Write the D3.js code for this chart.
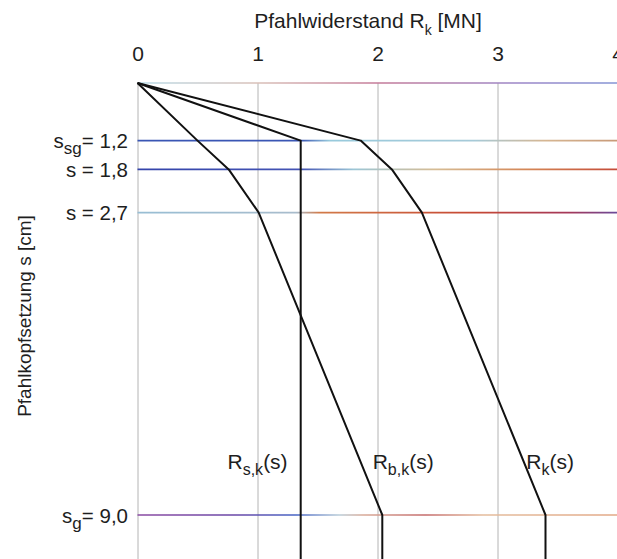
<!DOCTYPE html>
<html><head><meta charset="utf-8">
<script src="https://cdn.jsdelivr.net/npm/d3@7"></script>
<style>html,body{margin:0;padding:0;background:#fff;overflow:hidden}</style>
</head><body>
<svg id="c" width="617" height="559"></svg>
<script>
// ---- data ----
const xTicks = [0, 1, 2, 3, 4];
const levels = [0, 1.2, 1.8, 2.7, 9.0];           // settlement levels s [cm]
const levelLabels = [null, ["s", "sg", "= 1,2"], ["s = 1,8"], ["s = 2,7"], ["s", "g", "= 9,0"]];
const sValues = [0, 1.2, 1.8, 2.7, 9.0, 10.2];      // s [cm]
const Rsk = [0, 1.36, 1.36, 1.36, 1.36, 1.36];      // shaft resistance [MN]
const Rbk = [0, 0.50, 0.76, 1.01, 2.04, 2.04];      // base resistance [MN]
const Rk  = [0, 1.86, 2.12, 2.37, 3.40, 3.40];      // total resistance [MN]
const seriesNames = [["R", "s,k", "(s)"], ["R", "b,k", "(s)"], ["R", "k", "(s)"]];
const labelAt = [[0.75, 8.05], [1.96, 8.05], [3.24, 8.05]]; // [MN, cm] label anchor

const svg = d3.select("#c");
const x = d3.scaleLinear().domain([0, 4]).range([137.5, 617.5]);
const y = d3.scaleLinear().domain([0, 10]).range([83, 563]);
const font = "'Liberation Sans', Arial, sans-serif";
const txt = "#1e1e1e";

// gradients for the scanned coloured level lines
const grads = [
  [[0,"#b9dbe8"],[0.25,"#d9c0b8"],[0.5,"#c47a98"],[0.8,"#9a86c8"],[1,"#8494d4"]],
  [[0,"#3a56b4"],[0.34,"#3a56b4"],[0.4,"#98cadc"],[0.7,"#a6cad8"],[0.85,"#d6b692"],[1,"#c89a78"]],
  [[0,"#3444aa"],[0.34,"#4454b4"],[0.45,"#9cc6d6"],[0.62,"#d6bc94"],[0.82,"#d48454"],[1,"#c44a38"]],
  [[0,"#98bed4"],[0.33,"#a8bccc"],[0.38,"#d27a48"],[0.7,"#c64834"],[0.9,"#a4385a"],[1,"#6a4a9a"]],
  [[0,"#8a4aa2"],[0.2,"#6a46a6"],[0.33,"#4664c4"],[0.42,"#b8ccd8"],[0.47,"#d8aa98"],[0.6,"#c46a6a"],[0.72,"#e4bc9c"],[1,"#e2a886"]]
];
const defs = svg.append("defs");
grads.forEach((g, i) => {
  const lg = defs.append("linearGradient").attr("id", "g" + i)
    .attr("gradientUnits", "userSpaceOnUse")
    .attr("x1", x(0)).attr("x2", x(4)).attr("y1", 0).attr("y2", 0);
  g.forEach(s => lg.append("stop").attr("offset", s[0]).attr("stop-color", s[1]));
});

// vertical grid lines
const gridAxis = d3.axisTop(x).tickValues([0, 1, 2, 3]).tickSize(-(y(10.2) - y(0))).tickFormat("");
const gg = svg.append("g").attr("transform", `translate(0,${y(0)})`).call(gridAxis);
gg.select(".domain").remove();
gg.selectAll("line").attr("stroke", "#b4b4b4").attr("stroke-width", 1);

// top tick labels
const tAxis = d3.axisTop(x).tickValues(xTicks).tickSize(0).tickPadding(0).tickFormat(d3.format("d"));
const tg = svg.append("g").attr("transform", "translate(0,61)").call(tAxis);
tg.select(".domain").remove();
tg.selectAll("text").attr("font-family", font).attr("font-size", 21).attr("fill", txt);

// level lines
svg.append("g").selectAll("line").data(levels).join("line")
  .attr("x1", x(0)).attr("x2", x(4))
  .attr("y1", d => y(d)).attr("y2", d => y(d))
  .attr("stroke", (d, i) => `url(#g${i})`).attr("stroke-width", 1.6);

// level labels
levels.forEach((lv, i) => {
  const lab = levelLabels[i];
  if (!lab) return;
  const t = svg.append("text").attr("x", 128).attr("y", y(lv) + 7.5)
    .attr("text-anchor", "end").attr("font-family", font).attr("font-size", 20.5).attr("fill", txt);
  if (lab.length === 1) { t.text(lab[0]); return; }
  t.append("tspan").text(lab[0]);
  t.append("tspan").attr("dy", 6).attr("font-size", 17).text(lab[1]);
  t.append("tspan").attr("dy", -6).text(lab[2]);
});

// curves
const line = d3.line().x(d => x(d[0])).y(d => y(d[1]));
[Rsk, Rbk, Rk].forEach(ser => {
  svg.append("path").datum(ser.map((v, i) => [v, sValues[i]]))
    .attr("d", line).attr("fill", "none").attr("stroke", "#111")
    .attr("stroke-width", 2).attr("stroke-linejoin", "round");
});

// curve labels
seriesNames.forEach((n, i) => {
  const t = svg.append("text").attr("x", x(labelAt[i][0])).attr("y", y(labelAt[i][1]))
    .attr("font-family", font).attr("font-size", 21).attr("fill", txt);
  t.append("tspan").text(n[0]);
  t.append("tspan").attr("dy", 6).attr("font-size", 16).text(n[1]);
  t.append("tspan").attr("dy", -6).text(n[2]);
});

// axis titles
const tt = svg.append("text").attr("x", 368).attr("y", 28).attr("text-anchor", "middle")
  .attr("font-family", font).attr("font-size", 21).attr("fill", txt);
tt.append("tspan").text("Pfahlwiderstand R");
tt.append("tspan").attr("dy", 7).attr("font-size", 14).text("k");
tt.append("tspan").attr("dy", -7).text(" [MN]");

svg.append("text").attr("transform", "translate(31,316) rotate(-90)")
  .attr("text-anchor", "middle").attr("font-family", font).attr("font-size", 19)
  .attr("fill", txt).text("Pfahlkopfsetzung s [cm]");
</script>
</body></html>
